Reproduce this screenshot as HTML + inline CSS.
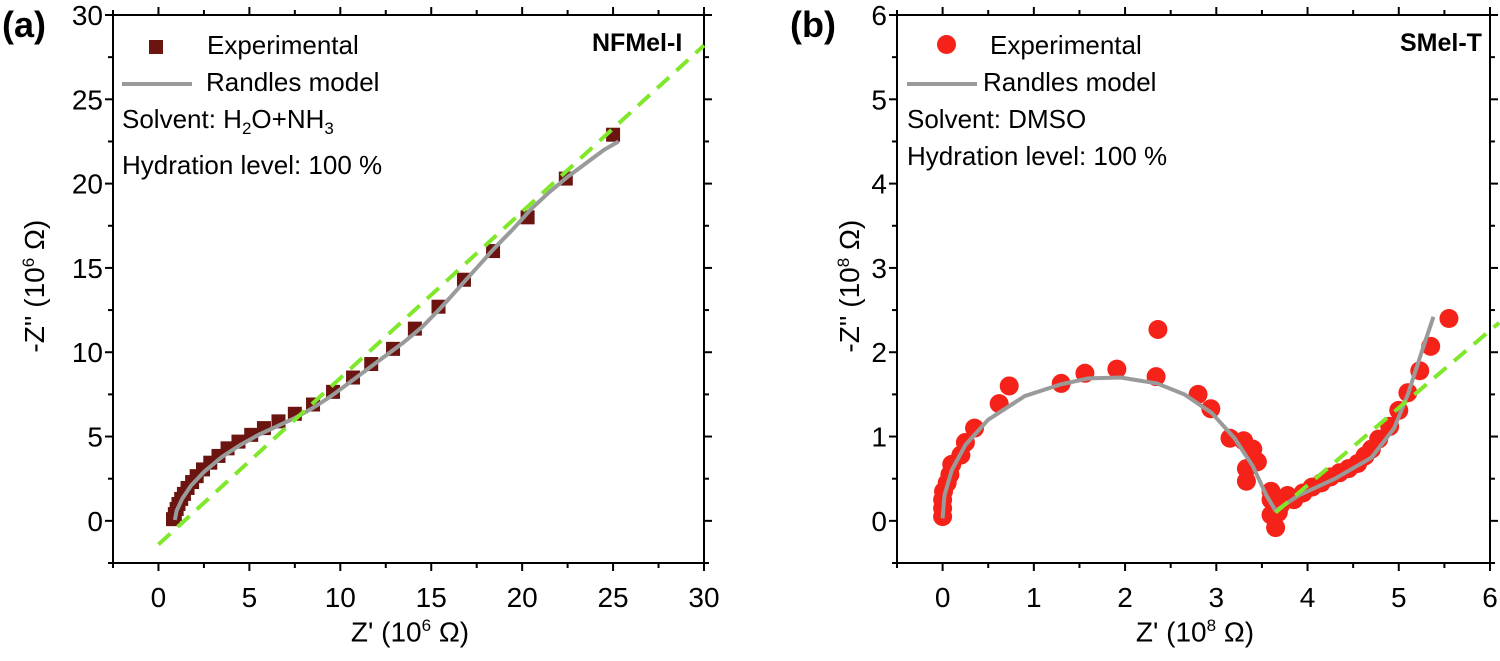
<!DOCTYPE html>
<html><head><meta charset="utf-8"><style>
html,body{margin:0;padding:0;background:#fff;}
svg{display:block;font-family:"Liberation Sans",Arial,sans-serif;}
</style></head><body>
<svg id="fig" width="1500" height="661" viewBox="0 0 1500 661" xmlns="http://www.w3.org/2000/svg">
<defs>
<clipPath id="ca"><rect x="113" y="15" width="591" height="548"/></clipPath>
<clipPath id="cb"><rect x="897" y="15" width="604" height="548"/></clipPath>
</defs>
<g id="pa"></g>
<g id="pb"></g>
</svg>
<script>
// Panel A data (10^6 ohm)
const aExpX=[0.8,0.9,1.0,1.1,1.25,1.4,1.6,1.85,2.1,2.45,2.85,3.3,3.8,4.4,5.1,5.8,6.6,7.5,8.5,9.6,10.7,11.7,12.9,14.1,15.4,16.8,18.4,20.3,22.4,25.0];
const aExpY=[0.1,0.4,0.7,1.0,1.3,1.6,1.95,2.3,2.65,3.05,3.45,3.85,4.3,4.7,5.1,5.5,5.9,6.35,6.9,7.65,8.5,9.3,10.2,11.4,12.7,14.3,16.0,18.0,20.3,22.9];
const aFitX=[0.9,1.0,1.3,1.8,2.5,3.5,4.5,5.5,6.5,7.5,8.5,9.5,10.5,11.5,12.5,13.5,14.5,15.5,16.5,17.5,18.5,19.5,20.5,21.5,22.5,23.5,24.5,25.3];
const aFitY=[0.05,0.6,1.3,2.1,2.9,3.8,4.5,5.1,5.6,6.1,6.7,7.4,8.2,9.0,9.8,10.6,11.5,12.6,13.8,15.0,16.2,17.3,18.5,19.5,20.4,21.2,22.0,22.5];
const aLineX=[0,30];
const aLineY=[-1.4,28.2];
// Panel B data (10^8 ohm)
const bExpX=[0,0,0,0.01,0.05,0.08,0.1,0.2,0.25,0.35,0.62,0.73,1.3,1.56,1.91,2.34,2.36,2.8,2.94,3.15,3.3,3.4,3.45,3.33,3.33,3.6,3.6,3.6,3.65,3.68,3.7,3.78,3.85,3.95,4.05,4.15,4.25,4.35,4.45,4.55,4.63,4.7,4.78,4.9,5.0,5.1,5.23,5.35,5.55];
const bExpY=[0.05,0.15,0.25,0.35,0.45,0.55,0.67,0.78,0.93,1.1,1.39,1.6,1.63,1.75,1.8,1.71,2.27,1.5,1.33,0.98,0.95,0.85,0.7,0.62,0.47,0.35,0.25,0.07,-0.08,0.1,0.18,0.3,0.25,0.33,0.4,0.45,0.52,0.57,0.62,0.68,0.77,0.85,0.97,1.12,1.31,1.52,1.78,2.07,2.4];
const bFitX=[0,0.02,0.1,0.25,0.5,0.9,1.3,1.6,1.95,2.35,2.65,2.95,3.2,3.4,3.55,3.65,3.9,4.3,4.7,4.95,5.1,5.25,5.38];
const bFitY=[0.03,0.3,0.6,0.9,1.2,1.48,1.62,1.69,1.7,1.63,1.5,1.28,0.98,0.65,0.3,0.12,0.3,0.5,0.75,1.1,1.5,2.0,2.42];
const bLineX=[3.65,6.1];
const bLineY=[0.1,2.35];

const NS="http://www.w3.org/2000/svg";
function mk(parent,tag,attrs,text){const e=document.createElementNS(NS,tag);for(const k in attrs)e.setAttribute(k,attrs[k]);if(text!==undefined)e.textContent=text;parent.appendChild(e);return e;}

function panel(g,o){
  const sx=v=>o.L+(v-o.x0)/(o.x1-o.x0)*(o.R-o.L);
  const sy=v=>o.B-(v-o.y0)/(o.y1-o.y0)*(o.B-o.T);
  const fr=mk(g,'rect',{x:o.L,y:o.T,width:o.R-o.L,height:o.B-o.T,fill:'none',stroke:'#000','stroke-width':2});
  
  
  for(let v=o.x0;v<=o.x1+1e-9;v+=o.xm){
    const major=Math.abs(((v-o.xt0)/o.xs)-Math.round((v-o.xt0)/o.xs))<1e-6;
    const len=major?8:5,x=sx(v);
    mk(g,'line',{x1:x,x2:x,y1:o.B,y2:o.B+len,stroke:'#000','stroke-width':2});
    mk(g,'line',{x1:x,x2:x,y1:o.T,y2:o.T-len,stroke:'#000','stroke-width':2});
    if(major){const t=mk(g,'text',{x:x,y:o.B+44,'font-size':28,'text-anchor':'middle'},String(Math.round(v*10)/10));
      
      }
  }
  for(let v=o.y0;v<=o.y1+1e-9;v+=o.ym){
    const major=Math.abs(((v-o.yt0)/o.ys)-Math.round((v-o.yt0)/o.ys))<1e-6;
    const len=major?8:5,y=sy(v);
    mk(g,'line',{x1:o.L,x2:o.L-len,y1:y,y2:y,stroke:'#000','stroke-width':2});
    mk(g,'line',{x1:o.R,x2:o.R+len,y1:y,y2:y,stroke:'#000','stroke-width':2});
    if(major){const t=mk(g,'text',{x:o.L-10,y:y+10,'font-size':28,'text-anchor':'end'},String(Math.round(v*10)/10));
      
      }
  }
  const data=mk(g,'g',{'clip-path':o.clip});
  
  
  for(let i=0;i<o.ex.length;i++){
    let m;
    if(o.sq){m=mk(data,'rect',{x:sx(o.ex[i])-7,y:sy(o.ey[i])-7,width:14,height:14,fill:'#6b1410'});}
    else{m=mk(data,'circle',{cx:sx(o.ex[i]),cy:sy(o.ey[i]),r:9.5,fill:'#f5221a'});}
    
    
  }
  const fit=mk(data,'polyline',{points:o.fx.map((v,i)=>sx(v)+','+sy(o.fy[i])).join(' '),fill:'none',stroke:'#999b9a','stroke-width':4,'stroke-linejoin':'round'});
  
  
  const ln=mk(g,'line',{x1:sx(o.lx[0]),y1:sy(o.ly[0]),x2:sx(o.lx[1]),y2:sy(o.ly[1]),stroke:'#80e82a','stroke-width':4,'stroke-dasharray':'16,10'});
  
  
}

const pa=document.getElementById('pa');
panel(pa,{L:113,R:704,T:15,B:563,x0:-2.5,x1:30,y0:-2.5,y1:30,xm:2.5,xs:5,xt0:0,ym:2.5,ys:5,yt0:0,
  ex:aExpX,ey:aExpY,fx:aFitX,fy:aFitY,lx:aLineX,ly:aLineY,sq:true,clip:'url(#ca)'});
const pb=document.getElementById('pb');
panel(pb,{L:897,R:1490,T:15,B:563,x0:-0.5,x1:6,y0:-0.5,y1:6,xm:0.5,xs:1,xt0:0,ym:0.5,ys:1,yt0:0,
  ex:bExpX,ey:bExpY,fx:bFitX,fy:bFitY,lx:bLineX,ly:bLineY,sq:false,clip:'url(#cb)'});
</script>
<div style="position:absolute;left:0;top:0;width:1500px;height:661px;pointer-events:none;font-family:'Liberation Sans',Arial,sans-serif;color:#000;">
<div style="position:absolute;left:2px;top:4px;font-size:36px;font-weight:bold;">(a)</div>
<div style="position:absolute;left:790px;top:4px;font-size:36px;font-weight:bold;">(b)</div>
<div style="position:absolute;left:592px;top:29px;font-size:25px;font-weight:bold;">NFMel-I</div>
<div style="position:absolute;left:1400px;top:29px;font-size:25px;font-weight:bold;">SMel-T</div>
<div style="position:absolute;left:122px;top:27px;font-size:26px;line-height:37px;">
 <div><span style="display:inline-block;width:14px;height:14px;background:#6b1410;margin:0 44px 0 27px;"></span>Experimental</div>
 <div><span style="display:inline-block;width:70px;height:4px;background:#999b9a;vertical-align:middle;margin-right:14px;"></span>Randles model</div>
 <div>Solvent: H<sub style="font-size:17px">2</sub>O+NH<sub style="font-size:17px">3</sub></div>
 <div>Hydration level: 100 %</div>
</div>
<div style="position:absolute;left:907px;top:27px;font-size:26px;line-height:37px;">
 <div><span style="display:inline-block;width:19px;height:19px;border-radius:50%;background:#f5221a;margin:0 34px 0 30px;"></span>Experimental</div>
 <div><span style="display:inline-block;width:70px;height:4px;background:#999b9a;vertical-align:middle;margin-right:6px;"></span>Randles model</div>
 <div>Solvent: DMSO</div>
 <div>Hydration level: 100 %</div>
</div>
<div style="position:absolute;left:310px;top:616px;font-size:28px;width:200px;text-align:center;white-space:nowrap;">Z' (10<sup style="font-size:17px">6</sup> Ω)</div>
<div style="position:absolute;left:1095px;top:616px;font-size:28px;width:200px;text-align:center;white-space:nowrap;">Z' (10<sup style="font-size:17px">8</sup> Ω)</div>
<div style="position:absolute;left:-65px;top:270px;width:200px;font-size:28px;text-align:center;white-space:nowrap;transform:rotate(-90deg);">-Z'' (10<sup style="font-size:17px">6</sup> Ω)</div>
<div style="position:absolute;left:750px;top:270px;width:200px;font-size:28px;text-align:center;white-space:nowrap;transform:rotate(-90deg);">-Z'' (10<sup style="font-size:17px">8</sup> Ω)</div>
</div>
</body></html>
